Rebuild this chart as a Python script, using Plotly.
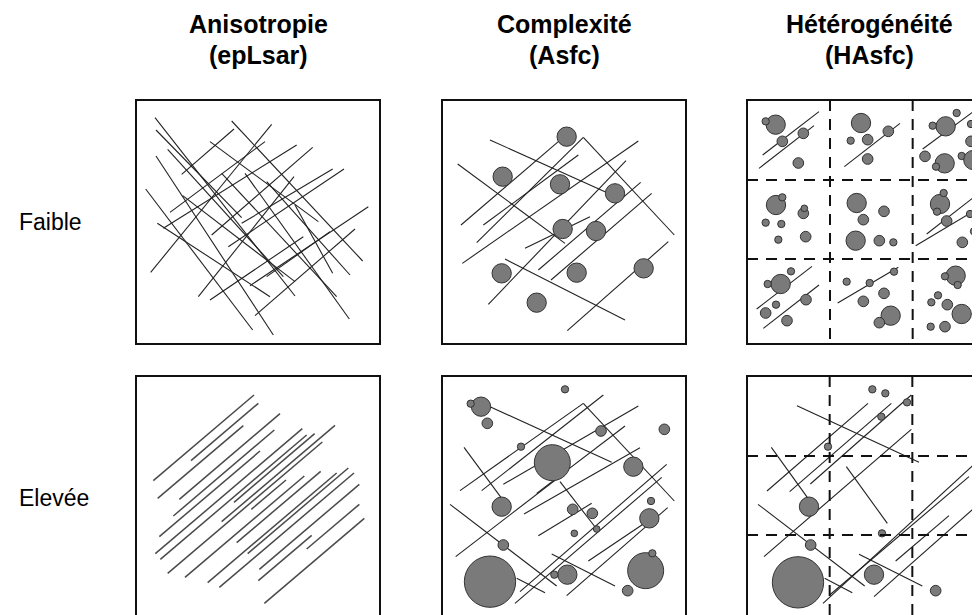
import plotly.graph_objects as go

# ---------------- text ----------------
headers = [("Anisotropie", "(epLsar)"), ("Complexité", "(Asfc)"), ("Hétérogénéité", "(HAsfc)")]
row_labels = ["Faible", "Elevée"]

# ---------------- data (sample units, panel side = 732, y downward) ----------------
# segments (x0, y0, x1, y1)
aniso_low_lines = [
    (57, 53, 477, 588), (60, 90, 317, 353), (95, 148, 442, 530), (60, 168, 412, 705),
    (29, 267, 350, 690), (287, 63, 680, 483), (222, 125, 547, 365), (257, 220, 602, 590),
    (327, 220, 640, 657), (140, 287, 477, 545), (64, 370, 402, 590), (392, 245, 642, 525),
    (477, 315, 590, 520),
    (44, 517, 407, 73), (102, 337, 387, 125), (137, 223, 294, 87), (82, 385, 482, 135),
    (227, 405, 530, 142), (317, 370, 590, 207), (277, 440, 624, 207), (187, 590, 474, 230),
    (222, 600, 502, 410), (342, 557, 697, 320), (357, 647, 657, 387), (392, 530, 582, 395),
]
aniso_high_lines = [
    (52, 314, 354, 57), (65, 367, 322, 149), (165, 254, 367, 82), (130, 370, 432, 113),
    (112, 420, 415, 162), (70, 482, 372, 225), (58, 533, 499, 158), (73, 550, 512, 177),
    (95, 592, 559, 198), (147, 604, 505, 300), (215, 620, 602, 291), (250, 634, 654, 291),
    (257, 437, 597, 148), (294, 379, 536, 173), (346, 400, 450, 312), (302, 500, 554, 286),
    (335, 533, 637, 276), (370, 580, 670, 325), (367, 614, 527, 478), (512, 519, 670, 385),
    (385, 682, 685, 427),
]
complex_low_lines = [
    (57, 375, 349, 125), (124, 375, 409, 165), (104, 428, 424, 112), (61, 490, 589, 123),
    (249, 445, 444, 350), (139, 613, 552, 182), (289, 510, 596, 247), (327, 540, 629, 280),
    (376, 692, 679, 425),
    (144, 120, 489, 275), (47, 192, 369, 430), (424, 112, 697, 405), (189, 477, 549, 660),
]
# circles (cx, cy, r)
complex_low_pits = [
    (374, 110, 29), (182, 230, 29), (354, 253, 29), (519, 280, 29), (362, 387, 29),
    (462, 393, 29), (179, 520, 29), (404, 518, 29), (605, 505, 29), (284, 608, 29),
]
complex_high_lines = [
    (144, 92, 509, 259), (424, 82, 697, 375), (66, 214, 179, 367), (354, 317, 464, 459),
    (24, 385, 344, 630), (224, 607, 309, 650), (329, 534, 519, 630),
    (54, 344, 424, 82), (119, 344, 484, 57), (184, 325, 589, 90), (284, 352, 549, 150),
    (41, 542, 379, 282), (246, 414, 594, 215), (289, 479, 449, 382), (234, 647, 674, 265),
    (219, 682, 659, 304), (374, 659, 677, 395), (439, 555, 614, 437),
]
complex_high_pits = [
    (117, 92, 29), (86, 83, 11), (136, 142, 16), (369, 40, 11), (237, 212, 11),
    (331, 260, 54), (477, 165, 16), (667, 160, 16), (574, 272, 29), (179, 392, 29),
    (392, 400, 16), (451, 412, 16), (627, 375, 11), (622, 427, 29), (464, 459, 10),
    (397, 472, 10), (184, 507, 16), (144, 617, 77), (376, 596, 29), (337, 596, 11),
    (611, 584, 54), (631, 532, 11), (557, 644, 16),
]
hetero_low_lines = [
    (47, 165, 216, 35), (36, 205, 201, 77), (292, 200, 459, 70), (527, 147, 694, 24),
    (539, 402, 699, 277), (506, 437, 691, 327), (29, 627, 195, 499), (49, 685, 216, 555),
    (272, 609, 454, 502),
]
hetero_low_pits = [
    (86, 74, 29), (56, 64, 11), (106, 124, 16), (169, 100, 16), (154, 189, 16),
    (342, 69, 29), (311, 122, 11), (362, 119, 16), (424, 94, 16), (362, 177, 16),
    (596, 79, 29), (557, 77, 11), (629, 39, 11), (672, 72, 11), (672, 124, 16),
    (534, 169, 16), (593, 190, 29), (567, 200, 11), (644, 168, 11), (679, 180, 29),
    (87, 315, 29), (106, 292, 11), (169, 340, 16), (172, 325, 10), (56, 368, 11),
    (103, 372, 11), (94, 419, 11), (176, 410, 16),
    (329, 309, 29), (411, 334, 16), (349, 359, 16), (326, 422, 29), (397, 422, 16), (439, 427, 11),
    (579, 312, 29), (590, 279, 11), (570, 335, 11), (599, 363, 16), (669, 342, 11),
    (687, 362, 11), (681, 394, 11), (646, 427, 16),
    (101, 552, 29), (132, 514, 11), (62, 552, 11), (87, 614, 11), (56, 639, 16),
    (177, 599, 16), (120, 662, 16),
    (299, 545, 11), (368, 549, 11), (441, 515, 11), (411, 580, 16), (349, 604, 16),
    (431, 647, 29), (397, 668, 16),
    (626, 527, 29), (594, 529, 11), (632, 555, 11), (573, 586, 11), (553, 607, 11),
    (601, 614, 16), (644, 642, 29), (551, 680, 11), (594, 680, 16),
]
hetero_high_lines = [
    (150, 89, 516, 259), (60, 345, 363, 82), (128, 347, 433, 82), (190, 324, 493, 57),
    (51, 542, 493, 160), (73, 214, 183, 367), (298, 272, 421, 442), (33, 385, 353, 630),
    (233, 607, 316, 650), (336, 535, 526, 630), (228, 682, 681, 265), (248, 657, 666, 302),
    (446, 555, 606, 419), (381, 662, 683, 395),
]
hetero_high_pits = [
    (376, 40, 11), (415, 52, 11), (480, 79, 11), (403, 122, 11), (243, 212, 11),
    (186, 392, 29), (191, 507, 16), (405, 472, 11), (153, 619, 77), (381, 596, 29),
    (566, 644, 16),
]
# HAsfc sub-sampling grid positions (sample units)
hetero_low_grid_x = [249, 497]
hetero_low_grid_y = [240, 477]
hetero_high_grid_x = [248, 496]
hetero_high_grid_y = [240, 477]

# ---------------- layout ----------------
W, H = 980, 615
PAGE_OFF = 8        # default page margin around the plot div
SIDE = 732          # sample side in data units
UPP = 3.0           # data units per screen pixel
PAD_PX = 2
panel_left = [136 - PAGE_OFF, 442 - PAGE_OFF, 747 - PAGE_OFF]
panel_top = [100 - PAGE_OFF, 376 - PAGE_OFF]
side_px = SIDE / UPP

panels = [
    # (row, col, lines, pits, grid_x, grid_y, line style)
    (0, 0, aniso_low_lines, [], [], [], dict(color="#222222", width=1.1)),
    (0, 1, complex_low_lines, complex_low_pits, [], [], dict(color="#222222", width=1.1)),
    (0, 2, hetero_low_lines, hetero_low_pits, hetero_low_grid_x, hetero_low_grid_y, dict(color="#222222", width=1.1)),
    (1, 0, aniso_high_lines, [], [], [], dict(color="#4a4a4a", width=1.5)),
    (1, 1, complex_high_lines, complex_high_pits, [], [], dict(color="#222222", width=1.1)),
    (1, 2, hetero_high_lines, hetero_high_pits, hetero_high_grid_x, hetero_high_grid_y, dict(color="#222222", width=1.1)),
]

fig = go.Figure()
shapes = []
layout_axes = {}

for r, c, lines, pits, gx, gy, lstyle in panels:
    k = r * 3 + c + 1
    xs = "" if k == 1 else str(k)
    L = panel_left[c] - PAD_PX
    R = min(W, panel_left[c] + side_px + PAD_PX)
    T = panel_top[r] - PAD_PX
    B = min(H, panel_top[r] + side_px + PAD_PX)
    x0 = -PAD_PX * UPP
    y0 = -PAD_PX * UPP
    layout_axes["xaxis" + xs] = dict(domain=[L / W, R / W], range=[x0, x0 + (R - L) * UPP],
                                     visible=False, fixedrange=True, anchor="y" + xs)
    layout_axes["yaxis" + xs] = dict(domain=[1 - B / H, 1 - T / H], range=[y0 + (B - T) * UPP, y0],
                                     visible=False, fixedrange=True, anchor="x" + xs)
    px, py = [], []
    for (a, b, cc, d) in lines:
        px += [a, cc, None]
        py += [b, d, None]
    fig.add_trace(go.Scatter(x=px, y=py, mode="lines", line=lstyle, hoverinfo="skip",
                             showlegend=False, xaxis="x" + xs, yaxis="y" + xs))
    xr, yr = "x" + xs, "y" + xs
    for (cx, cy, rr) in pits:
        shapes.append(dict(type="circle", xref=xr, yref=yr, x0=cx - rr, x1=cx + rr,
                           y0=cy - rr, y1=cy + rr, fillcolor="#7a7a7a",
                           line=dict(color="#333333", width=1)))
    for g in gx:
        shapes.append(dict(type="line", xref=xr, yref=yr, x0=g, x1=g, y0=0, y1=SIDE,
                           line=dict(color="#111111", width=2, dash="11px,8px")))
    for g in gy:
        shapes.append(dict(type="line", xref=xr, yref=yr, x0=0, x1=SIDE, y0=g, y1=g,
                           line=dict(color="#111111", width=2, dash="11px,8px")))
    shapes.append(dict(type="rect", xref=xr, yref=yr, x0=0, x1=SIDE, y0=0, y1=SIDE,
                       line=dict(color="#111111", width=2), fillcolor="rgba(0,0,0,0)"))

annotations = []
FONT = "Liberation Sans, Arial, sans-serif"
for c, (t1, t2) in enumerate(headers):
    xc = (panel_left[c] + side_px / 2) / W
    annotations.append(dict(text="<b>%s</b>" % t1, x=xc, y=1 - (24 - PAGE_OFF) / H, xref="paper", yref="paper",
                            xanchor="center", yanchor="middle", showarrow=False,
                            font=dict(family=FONT, size=25, color="#000000")))
    annotations.append(dict(text="<b>%s</b>" % t2, x=xc, y=1 - (55 - PAGE_OFF) / H, xref="paper", yref="paper",
                            xanchor="center", yanchor="middle", showarrow=False,
                            font=dict(family=FONT, size=25, color="#000000")))
for r, lab in enumerate(row_labels):
    yc = (panel_top[r] + side_px / 2) / H
    annotations.append(dict(text=lab, x=(17 - PAGE_OFF) / W, y=1 - yc, xref="paper", yref="paper",
                            xanchor="left", yanchor="middle", showarrow=False,
                            font=dict(family=FONT, size=23, color="#000000")))

fig.update_layout(width=W, height=H, margin=dict(l=0, r=0, t=0, b=0),
                  paper_bgcolor="white", plot_bgcolor="white",
                  shapes=shapes, annotations=annotations, **layout_axes)

fig.write_html("out.html")
